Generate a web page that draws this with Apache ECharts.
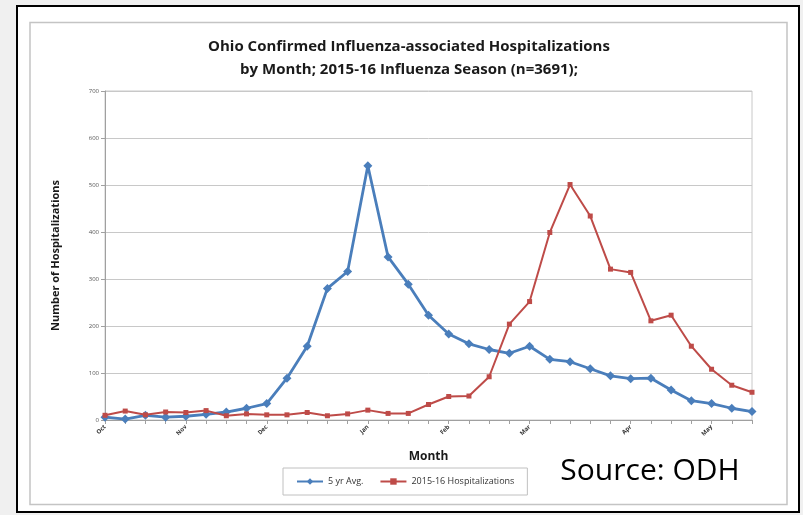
<!DOCTYPE html>
<html>
<head>
<meta charset="utf-8">
<script src="https://cdn.jsdelivr.net/npm/echarts@6/dist/echarts.min.js"></script>
<style>
html,body{margin:0;padding:0;background:#f0f0f0;}
#c{width:803px;height:515px;}
</style>
</head>
<body>
<div id="c"></div>
<script>
// MMWR weeks, Oct 2015 - May 2016
var weeks = ['40','41','42','43','44','45','46','47','48','49','50','51','52','53',
             '1','2','3','4','5','6','7','8','9','10','11','12','13','14','15','16','17','18','19'];
var monthLabels = [[0,'Oct'],[4,'Nov'],[8,'Dec'],[13,'Jan'],[17,'Feb'],[21,'Mar'],[26,'Apr'],[30,'May']];
var avg5yr = [6,2,10,6,8,12,17,25,35,89,157,280,316,541,347,289,223,183,162,150,142,157,129,124,109,94,88,89,64,41,35,25,18];
var season1516 = [10,19,11,17,16,20,9,13,11,11,16,9,13,21,14,14,33,50,51,92,204,252,399,501,434,321,314,211,223,157,108,74,59];
var yTicks = {min:0, max:700, interval:100};

var labelMap = {};
monthLabels.forEach(function(m){ labelMap[m[0]] = m[1]; });

var chart = echarts.init(document.getElementById('c'));
var font = '"Open Sans", "Noto Sans", sans-serif';
chart.setOption({
  backgroundColor: '#f0f0f0',
  animation: false,
  graphic: [
    {type:'rect', shape:{x:17, y:6, width:782, height:506}, style:{fill:'#ffffff', stroke:'#000000', lineWidth:2}, z:-10},
    {type:'rect', shape:{x:30, y:22.5, width:757, height:482}, style:{fill:'#ffffff', stroke:'#c4c4c4', lineWidth:1.5}, z:-9},
    {type:'text', x:650, y:471, style:{text:'Source: ODH', fill:'#000', align:'center', verticalAlign:'middle',
      font:'30px "Open Sans", "Noto Sans", sans-serif'}, z:10}
  ],
  title: {
    text: 'Ohio Confirmed Influenza-associated Hospitalizations\nby Month; 2015-16 Influenza Season (n=3691);',
    left: 404, textAlign: 'center', top: 30,
    textStyle: {fontFamily: font, fontSize: 15, fontWeight: 'bold', color: '#1a1a1a', lineHeight: 23}
  },
  legend: {
    left: 283, top: 468, width: 244,
    itemWidth: 26, itemHeight: 8, itemGap: 16,
    padding: [9, 13, 9, 13],
    borderColor: '#c0c0c0', borderWidth: 1,
    textStyle: {fontFamily: font, fontSize: 9, color: '#333'},
    data: ['5 yr Avg.', '2015-16 Hospitalizations']
  },
  grid: {left: 105, right: 51, top: 91, bottom: 95, show: true, borderColor: '#c8c8c8', borderWidth: 1},
  xAxis: {
    type: 'category', data: weeks, boundaryGap: false,
    name: 'Month', nameLocation: 'middle', nameGap: 31,
    nameTextStyle: {fontFamily: font, fontSize: 12, fontWeight: 'bold', color: '#1a1a1a'},
    axisLine: {lineStyle: {color: '#a0a0a0'}},
    axisTick: {show: true, interval: 0, length: 4, lineStyle: {color: '#a0a0a0'}},
    axisLabel: {interval: 0, rotate: 45, fontSize: 6, fontWeight: 'bold', color: '#333', margin: 6, fontFamily: font,
      formatter: function(v, i){ return labelMap[i] || ''; }},
    splitLine: {show: false}
  },
  yAxis: {
    type: 'value', min: yTicks.min, max: yTicks.max, interval: yTicks.interval,
    name: 'Number of Hospitalizations', nameLocation: 'middle', nameGap: 44, nameRotate: 90,
    nameTextStyle: {fontFamily: font, fontSize: 11, fontWeight: 'bold', color: '#1a1a1a'},
    axisLine: {show: true, lineStyle: {color: '#a0a0a0'}},
    axisTick: {show: true, length: 4, lineStyle: {color: '#a0a0a0'}},
    axisLabel: {fontSize: 6, color: '#555', margin: 6, fontFamily: font},
    splitLine: {lineStyle: {color: '#c8c8c8', width: 1}}
  },
  series: [
    {name: '5 yr Avg.', type: 'line', data: avg5yr, symbol: 'diamond', symbolSize: 9,
     lineStyle: {color: '#4a7ebb', width: 2.8}, itemStyle: {color: '#4a7ebb'}, z: 3},
    {name: '2015-16 Hospitalizations', type: 'line', data: season1516, symbol: 'rect', symbolSize: 5,
     lineStyle: {color: '#be4b48', width: 2}, itemStyle: {color: '#be4b48'}, z: 4}
  ]
});
</script>
</body>
</html>
